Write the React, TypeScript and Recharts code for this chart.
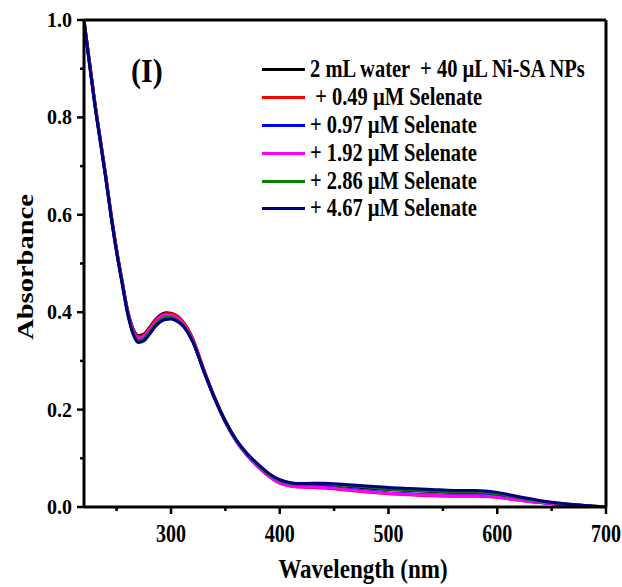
import React from 'react';
import { LineChart, Line, XAxis, YAxis, ReferenceLine } from 'recharts';

const wavelength = [220, 225, 230, 235, 240, 245, 250, 255, 260, 265, 270, 275, 280, 285, 290, 295, 300, 305, 310, 320, 330, 340, 350, 360, 370, 380, 390, 400, 410, 420, 430, 440, 460, 480, 500, 520, 540, 560, 580, 600, 620, 640, 660, 680, 700];

const water = [1.000, 0.915, 0.830, 0.755, 0.680, 0.600, 0.528, 0.465, 0.405, 0.367, 0.352, 0.355, 0.368, 0.383, 0.394, 0.399, 0.398, 0.393, 0.383, 0.345, 0.282, 0.225, 0.176, 0.137, 0.108, 0.085, 0.066, 0.053, 0.047, 0.045, 0.046, 0.046, 0.043, 0.039, 0.036, 0.034, 0.032, 0.030, 0.030, 0.026, 0.018, 0.011, 0.006, 0.003, 0.000];
const se049 = [1.000, 0.915, 0.830, 0.755, 0.680, 0.600, 0.528, 0.465, 0.404, 0.365, 0.350, 0.353, 0.366, 0.381, 0.392, 0.397, 0.397, 0.393, 0.383, 0.346, 0.284, 0.226, 0.176, 0.136, 0.106, 0.083, 0.063, 0.049, 0.043, 0.041, 0.040, 0.039, 0.035, 0.031, 0.027, 0.025, 0.023, 0.022, 0.022, 0.020, 0.014, 0.009, 0.005, 0.002, 0.000];
const se097 = [0.998, 0.912, 0.827, 0.752, 0.677, 0.597, 0.525, 0.462, 0.401, 0.361, 0.345, 0.348, 0.361, 0.376, 0.387, 0.392, 0.392, 0.387, 0.378, 0.341, 0.280, 0.223, 0.174, 0.135, 0.106, 0.083, 0.064, 0.050, 0.044, 0.042, 0.042, 0.041, 0.037, 0.033, 0.029, 0.027, 0.025, 0.024, 0.024, 0.021, 0.015, 0.009, 0.005, 0.002, 0.000];
const se192 = [0.999, 0.913, 0.828, 0.753, 0.678, 0.598, 0.526, 0.463, 0.402, 0.363, 0.347, 0.350, 0.363, 0.378, 0.390, 0.395, 0.394, 0.389, 0.380, 0.342, 0.281, 0.224, 0.175, 0.135, 0.106, 0.083, 0.063, 0.049, 0.043, 0.041, 0.041, 0.040, 0.036, 0.032, 0.028, 0.026, 0.024, 0.023, 0.023, 0.020, 0.014, 0.009, 0.005, 0.002, 0.000];
const se286 = [0.998, 0.911, 0.826, 0.751, 0.676, 0.596, 0.524, 0.461, 0.400, 0.359, 0.342, 0.345, 0.358, 0.373, 0.384, 0.389, 0.389, 0.385, 0.376, 0.340, 0.280, 0.224, 0.175, 0.137, 0.108, 0.086, 0.067, 0.054, 0.048, 0.046, 0.047, 0.047, 0.044, 0.041, 0.037, 0.035, 0.033, 0.031, 0.031, 0.027, 0.019, 0.012, 0.007, 0.003, 0.000];
const se467 = [0.997, 0.910, 0.825, 0.750, 0.675, 0.595, 0.523, 0.460, 0.398, 0.356, 0.338, 0.341, 0.354, 0.369, 0.380, 0.385, 0.386, 0.382, 0.374, 0.339, 0.280, 0.224, 0.176, 0.138, 0.110, 0.088, 0.069, 0.056, 0.050, 0.048, 0.049, 0.049, 0.046, 0.043, 0.040, 0.038, 0.036, 0.034, 0.034, 0.030, 0.021, 0.013, 0.007, 0.003, 0.000];

const seriesLabels = ['2 mL water  + 40 \u00b5L Ni-SA NPs', ' + 0.49 \u00b5M Selenate', '+ 0.97 \u00b5M Selenate', '+ 1.92 \u00b5M Selenate', '+ 2.86 \u00b5M Selenate', '+ 4.67 \u00b5M Selenate'];
const seriesColors = ['#000000', '#ff0000', '#0000ff', '#ff00ff', '#008000', '#000080'];
const seriesValues = [water, se049, se097, se192, se286, se467];

const xTicks = [250, 300, 350, 400, 450, 500, 550, 600, 650, 700];
const yTicks = [0, 0.1, 0.2, 0.3, 0.4, 0.5, 0.6, 0.7, 0.8, 0.9, 1.0];

const data = wavelength.map((w, i) => {
  const row: Record<string, number> = { w };
  seriesValues.forEach((vals, k) => { row['s' + k] = vals[i]; });
  return row;
});

const FONT = '"Liberation Serif", "Times New Roman", serif';

// the source figure's lettering is a bit taller than wide, so stretch it vertically
const XTick = (props: any) => {
  const { x, y, payload } = props;
  const major = payload.value % 100 === 0;
  return (
    <g>
      <line x1={x} x2={x} y1={y} y2={y + (major ? 7 : 4)} stroke="#000" strokeWidth={2.5} />
      {major && (
        <text transform={`translate(${x}, ${y + 35}) scale(1, 1.22)`} textAnchor="middle" fontFamily={FONT} fontWeight="bold" fontSize={20} fill="#000">
          {payload.value}
        </text>
      )}
    </g>
  );
};

const YTick = (props: any) => {
  const { x, y, payload } = props;
  const major = Math.round(payload.value * 10) % 2 === 0;
  return (
    <g>
      <line x1={x} x2={x - (major ? 7 : 4)} y1={y} y2={y} stroke="#000" strokeWidth={2.5} />
      {major && (
        <text transform={`translate(${x - 12}, ${y + 7}) scale(1, 1.06)`} textAnchor="end" fontFamily={FONT} fontWeight="bold" fontSize={20} fill="#000">
          {payload.value.toFixed(1)}
        </text>
      )}
    </g>
  );
};

const XTitle = (props: any) => {
  const { viewBox } = props;
  const cx = viewBox.x + viewBox.width / 2 + 18;
  const by = viewBox.y + 71;
  return (
    <text transform={`translate(${cx}, ${by}) scale(1, 1.22)`} textAnchor="middle" fontFamily={FONT} fontWeight="bold" fontSize={23} fill="#000">
      Wavelength (nm)
    </text>
  );
};

const YTitle = () => {
  const cx = 33;
  const cy = 267;
  return (
    <text transform={`translate(${cx}, ${cy}) rotate(-90) scale(1.24, 1)`} textAnchor="middle" fontFamily={FONT} fontWeight="bold" fontSize={23} fill="#000">
      Absorbance
    </text>
  );
};

export default function App() {
  return (
    <div style={{ position: 'absolute', left: 0, top: 0, width: 622, height: 587, background: '#fff' }}>
      <LineChart width={622} height={587} data={data} margin={{ top: 20, right: 16, left: 24, bottom: 30 }}>
        <XAxis
          dataKey="w"
          type="number"
          domain={[220, 700]}
          ticks={xTicks}
          allowDataOverflow
          height={50}
          tickSize={0}
          tickMargin={0}
          tickLine={false}
          tick={<XTick />}
          axisLine={{ stroke: '#000', strokeWidth: 3 }}
          label={<XTitle />}
        />
        <YAxis
          type="number"
          domain={[0, 1]}
          ticks={yTicks}
          allowDataOverflow
          width={60}
          tickSize={0}
          tickMargin={0}
          tickLine={false}
          tick={<YTick />}
          axisLine={{ stroke: '#000', strokeWidth: 3 }}
          label={<YTitle />}
        />
        <ReferenceLine y={1} stroke="#000" strokeWidth={3} ifOverflow="visible" />
        <ReferenceLine x={700} stroke="#000" strokeWidth={3} ifOverflow="visible" />
        {seriesValues.map((_, k) => (
          <Line
            key={k}
            type="monotone"
            dataKey={'s' + k}
            stroke={seriesColors[k]}
            strokeWidth={3}
            dot={false}
            isAnimationActive={false}
          />
        ))}
      </LineChart>
      <div style={{ position: 'absolute', left: 131, top: 54, fontFamily: FONT, fontWeight: 'bold', fontSize: 30, transform: 'scaleY(1.1)' }}>(I)</div>
      <div style={{ position: 'absolute', left: 262, top: 56, fontFamily: FONT, fontWeight: 'bold', fontSize: 20.5 }}>
        {seriesLabels.map((label, i) => (
          <div key={i} style={{ display: 'flex', alignItems: 'center', height: 27.8, whiteSpace: 'pre' }}>
            <div style={{ width: 43, height: 3, background: seriesColors[i], marginRight: 5 }} />
            <span style={{ display: 'inline-block', transform: 'scaleY(1.18)' }}>{label}</span>
          </div>
        ))}
      </div>
    </div>
  );
}
